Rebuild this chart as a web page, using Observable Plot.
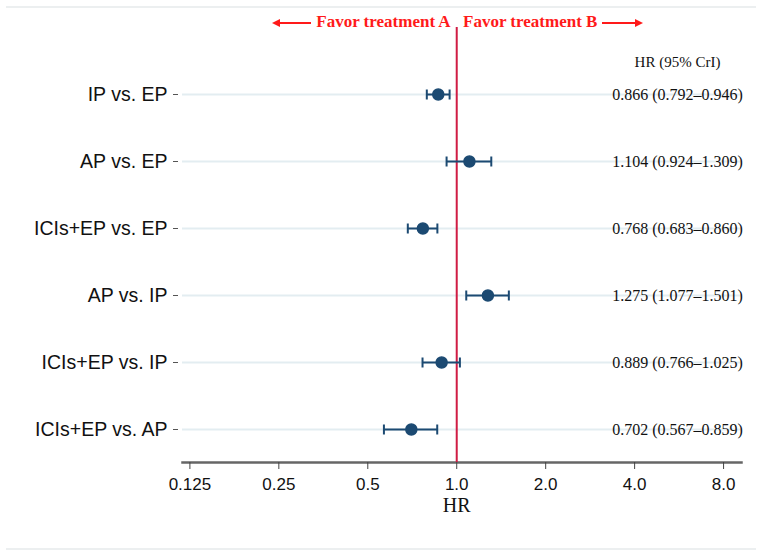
<!DOCTYPE html>
<html>
<head>
<meta charset="utf-8">
<script src="https://cdn.jsdelivr.net/npm/d3@7"></script>
<script src="https://cdn.jsdelivr.net/npm/@observablehq/plot@0.6"></script>
<style>
  html, body { margin: 0; padding: 0; background: #fff; }
  #wrap { position: relative; width: 762px; height: 558px; overflow: hidden; }
  .hline { position: absolute; left: 6px; width: 750px; height: 2px; background: #eceff0; }
  .favor { position: absolute; top: 12px; font-family: "Liberation Serif", serif; font-weight: bold; font-size: 17px; color: #ff1a1a; white-space: nowrap; line-height: 20px; }
  .favor svg { vertical-align: middle; }
  #chart { position: absolute; left: 0; top: 0; }
</style>
</head>
<body>
<div id="wrap">
  <div class="hline" style="top:6px"></div>
  <div class="hline" style="top:548px"></div>
  <div id="chart"></div>
  <div class="favor" style="left:272px"><svg width="40" height="12"><line x1="3" y1="6" x2="39" y2="6" stroke="#ff1a1a" stroke-width="2"/><path d="M0,6 L8,2 L8,10 Z" fill="#ff1a1a"/></svg> Favor treatment A</div>
  <div class="favor" style="left:463px">Favor treatment B <svg width="42" height="12"><line x1="0" y1="6" x2="36" y2="6" stroke="#ff1a1a" stroke-width="2"/><path d="M41,6 L33,2 L33,10 Z" fill="#ff1a1a"/></svg></div>
</div>
<script>
const comparisons = ["IP vs. EP", "AP vs. EP", "ICIs+EP vs. EP", "AP vs. IP", "ICIs+EP vs. IP", "ICIs+EP vs. AP"];
const hr    = [0.866, 1.104, 0.768, 1.275, 0.889, 0.702];
const lower = [0.792, 0.924, 0.683, 1.077, 0.766, 0.567];
const upper = [0.946, 1.309, 0.860, 1.501, 1.025, 0.859];
const hrLabels = ["0.866 (0.792–0.946)", "1.104 (0.924–1.309)", "0.768 (0.683–0.860)", "1.275 (1.077–1.501)", "0.889 (0.766–1.025)", "0.702 (0.567–0.859)"];
const xTicks = [0.125, 0.25, 0.5, 1, 2, 4, 8];
const xTickLabels = ["0.125", "0.25", "0.5", "1.0", "2.0", "4.0", "8.0"];
const columnHeader = "HR (95% CrI)";
const xLabel = "HR";

const data = comparisons.map((c, i) => ({c, hr: hr[i], lo: lower[i], hi: upper[i], label: hrLabels[i]}));
const navy = "#1c4a72";

const capSymbol = {
  draw(context, size) {
    const h = Math.sqrt(size / Math.PI);
    context.moveTo(0, -h);
    context.lineTo(0, h);
  }
};

const chart = Plot.plot({
  width: 762,
  height: 558,
  marginTop: 61,
  marginBottom: 96,
  marginLeft: 182,
  marginRight: 21,
  style: {fontFamily: "'Liberation Sans', Arial, sans-serif", background: "transparent", overflow: "visible"},
  x: {type: "log", base: 2, domain: [0.118, 9.2]},
  y: {type: "point", domain: comparisons, padding: 0.47},
  marks: [
    Plot.ruleY(comparisons, {stroke: "#e3edf1", strokeWidth: 2}),
    Plot.frame({anchor: "bottom", stroke: "#666", strokeWidth: 2.5}),
    Plot.axisX({ticks: xTicks, tickFormat: (d) => xTickLabels[xTicks.indexOf(d)], tickSize: 7, tickPadding: 8, fontSize: 17, stroke: "#444", color: "#111", label: null}),
    Plot.axisY({tickSize: 5, tickPadding: 6, dx: -4, fontSize: 19.5, stroke: "#555", color: "#111", label: null}),
    Plot.ruleX([1], {stroke: "#d01c44", strokeWidth: 2, insetTop: -34}),
    Plot.link(data, {x1: "lo", x2: "hi", y1: "c", y2: "c", stroke: navy, strokeWidth: 2}),
    Plot.dot(data, {x: "lo", y: "c", r: 5, symbol: capSymbol, stroke: navy, strokeWidth: 2}),
    Plot.dot(data, {x: "hi", y: "c", r: 5, symbol: capSymbol, stroke: navy, strokeWidth: 2}),
    Plot.dot(data, {x: "hr", y: "c", r: 5.5, fill: navy, stroke: navy}),
    Plot.text(data, {y: "c", text: "label", frameAnchor: "right", textAnchor: "middle", dx: -64, fontSize: 16, fontFamily: "'Liberation Serif', serif", fill: "#111"}),
    Plot.text([columnHeader], {text: d => d, frameAnchor: "top-right", textAnchor: "middle", dx: -64, dy: -5, fontSize: 15, fontFamily: "'Liberation Serif', serif", fill: "#111"}),
    Plot.text([xLabel], {x: 1, text: d => d, frameAnchor: "bottom", dy: 49, fontSize: 20, fontFamily: "'Liberation Serif', serif", fill: "#111"})
  ]
});
document.getElementById("chart").appendChild(chart);
</script>
</body>
</html>
